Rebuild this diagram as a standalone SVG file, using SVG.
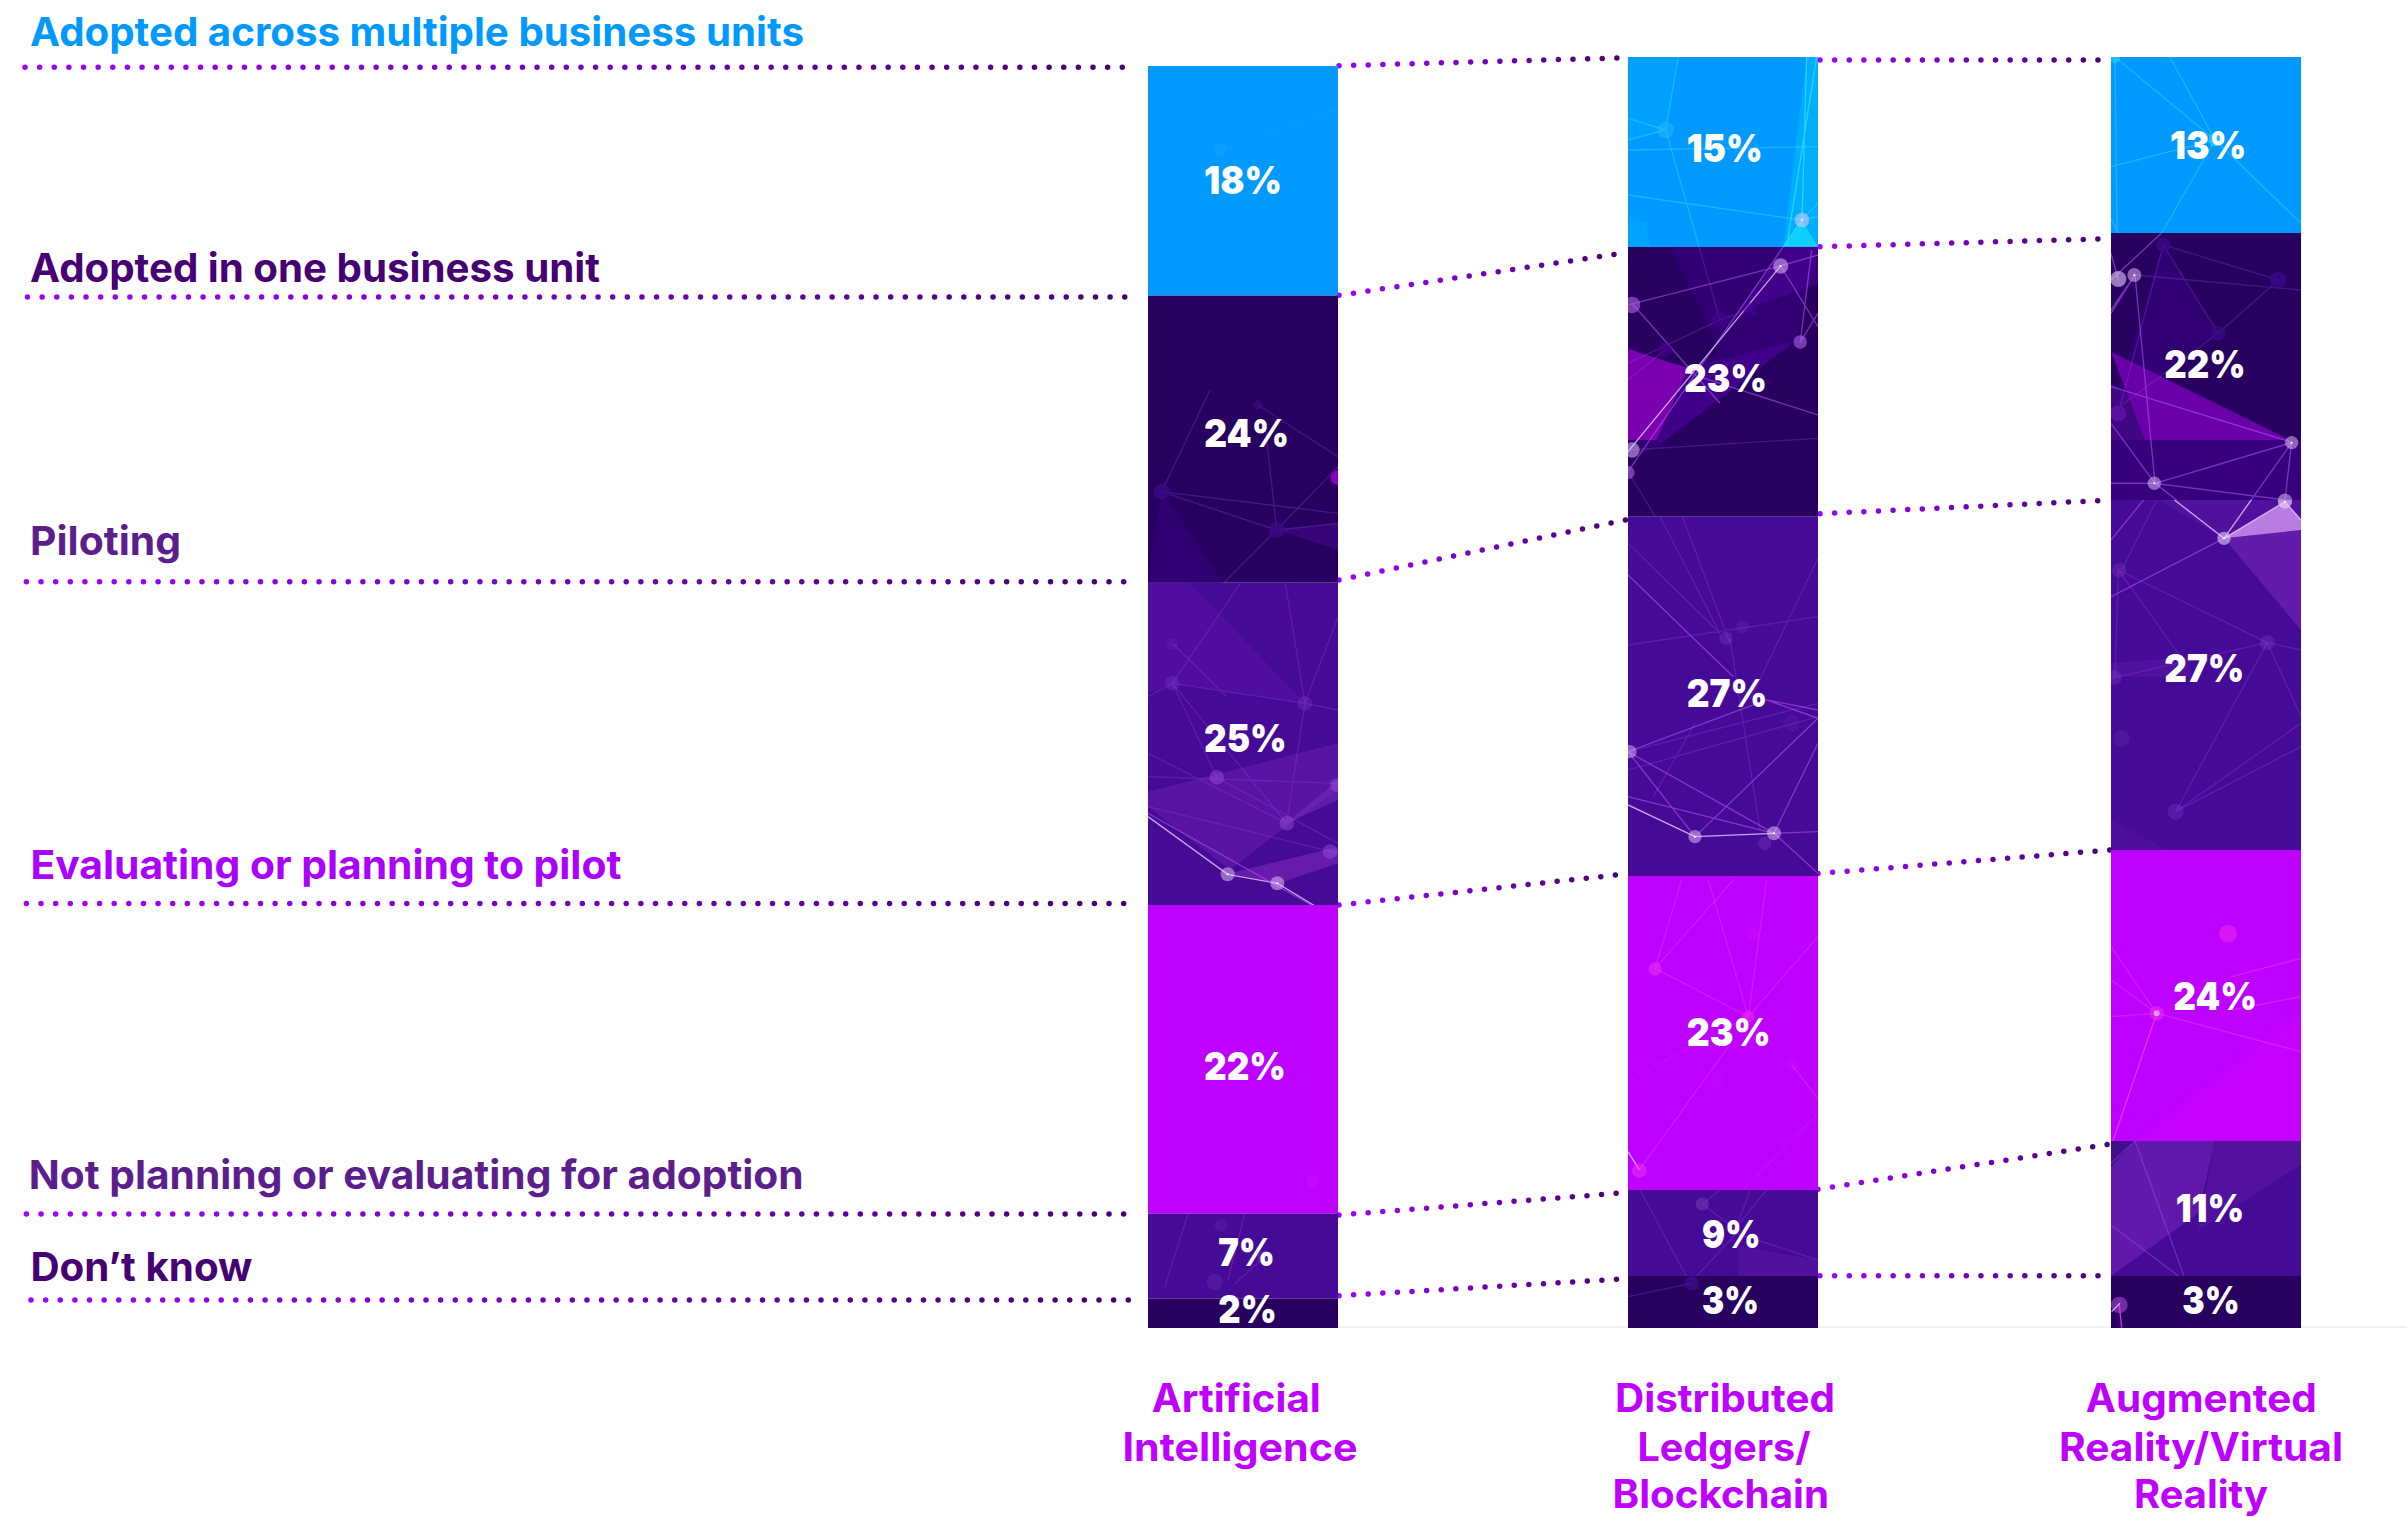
<svg xmlns="http://www.w3.org/2000/svg" width="2407" height="1517" viewBox="0 0 2407 1517">
<style>
text{font-family:Inter,"Liberation Sans",sans-serif}
.lab{font-size:39.5px;font-weight:650}
.col{font-size:39px;font-weight:650;fill:#bd00ff}
.pct{font-size:39px;font-weight:900;fill:#fff}
.blue{fill:#0099ff}.dark{fill:#270060}.mid{fill:#460b96}.mag{fill:#bd00ff}
.dot{fill:none;stroke-width:5.5;stroke-linecap:round;stroke-dasharray:0 14.63}
.tx path,.tx line{fill:none;stroke-width:4}
path.n1{stroke:#9a40e0;opacity:.3}
path.n2{stroke:#b050f0;opacity:.6}
path.n3{stroke:#e8ccff;opacity:.8}
path.cy{stroke:#30dcff;opacity:.45}
path.mg{stroke:#f030ff;opacity:.55}
circle.c1{fill:#9a60e0;opacity:.2}
circle.c2{fill:#e8c8ff;opacity:.5}
circle.c3{fill:#b060e8;opacity:.6}
circle.c4{fill:#f030f0;opacity:.55}
circle.s{fill:#fff}
</style>
<defs>
<linearGradient id="gL" gradientUnits="userSpaceOnUse" x1="25" y1="0" x2="1125" y2="0"><stop offset="0" stop-color="#a100ff"/><stop offset="1" stop-color="#460073"/></linearGradient>
<linearGradient id="gM" gradientUnits="userSpaceOnUse" x1="1339" y1="0" x2="1626" y2="0"><stop offset="0" stop-color="#a100ff"/><stop offset="1" stop-color="#460073"/></linearGradient>
<linearGradient id="gR" gradientUnits="userSpaceOnUse" x1="1820" y1="0" x2="2108" y2="0"><stop offset="0" stop-color="#a100ff"/><stop offset="1" stop-color="#460073"/></linearGradient>
<clipPath id="a1"><rect x="1148" y="66" width="190" height="229.7"/></clipPath>
<clipPath id="a2"><rect x="1148" y="295.7" width="190" height="287"/></clipPath>
<clipPath id="a3"><rect x="1148" y="582.7" width="190" height="322.3"/></clipPath>
<clipPath id="a4"><rect x="1148" y="905" width="190" height="308.7"/></clipPath>
<clipPath id="a5"><rect x="1148" y="1213.7" width="190" height="85"/></clipPath>
<clipPath id="d1"><rect x="1628" y="57" width="190" height="190"/></clipPath>
<clipPath id="d2"><rect x="1628" y="247" width="190" height="269.7"/></clipPath>
<clipPath id="d3"><rect x="1628" y="516.7" width="190" height="359.3"/></clipPath>
<clipPath id="d4"><rect x="1628" y="876" width="190" height="314"/></clipPath>
<clipPath id="d5"><rect x="1628" y="1190" width="190" height="86"/></clipPath>
<clipPath id="d6"><rect x="1628" y="1276" width="190" height="52"/></clipPath>
<clipPath id="r1"><rect x="2111" y="57" width="190" height="176"/></clipPath>
<clipPath id="r2"><rect x="2111" y="233" width="190" height="267"/></clipPath>
<clipPath id="r3"><rect x="2111" y="500" width="190" height="350"/></clipPath>
<clipPath id="r4"><rect x="2111" y="850" width="190" height="291"/></clipPath>
<clipPath id="r5"><rect x="2111" y="1141" width="190" height="135"/></clipPath>
<clipPath id="r6"><rect x="2111" y="1276" width="190" height="52"/></clipPath>
</defs>
<rect width="2407" height="1517" fill="#fff"/>
<rect x="1338" y="1326" width="1069" height="2" fill="#f2f2f2"/>

<g id="connectors" class="connectors">
<path class="dot" stroke="url(#gL)" d="M25 67.3H1125"/>
<path class="dot" stroke="url(#gL)" d="M27.5 297H1125"/>
<path class="dot" stroke="url(#gL)" d="M26.4 581.8H1125"/>
<path class="dot" stroke="url(#gL)" d="M26.4 903.5H1125"/>
<path class="dot" stroke="url(#gL)" d="M26.4 1214H1125"/>
<path class="dot" stroke="url(#gL)" d="M31 1300H1130"/>
<path class="dot" stroke="url(#gM)" d="M1339 65.7L1617 58"/>
<path class="dot" stroke="url(#gM)" d="M1339 295.3L1615 254.3"/>
<path class="dot" stroke="url(#gM)" d="M1339 580L1626 520"/>
<path class="dot" stroke="url(#gM)" d="M1339 905L1616 875"/>
<path class="dot" stroke="url(#gM)" d="M1339 1215L1617 1193.3"/>
<path class="dot" stroke="url(#gM)" d="M1339 1295.7L1617 1279.3"/>
<path class="dot" stroke="url(#gR)" d="M1820 60H2099"/>
<path class="dot" stroke="url(#gR)" d="M1820 246.7L2098 239"/>
<path class="dot" stroke="url(#gR)" d="M1820 513.7L2098 500.7"/>
<path class="dot" stroke="url(#gR)" d="M1818 873.5L2110 850"/>
<path class="dot" stroke="url(#gR)" d="M1818 1189.3L2108 1144.3"/>
<path class="dot" stroke="url(#gR)" d="M1820 1275.7H2099"/>
</g>

<g id="bar-artificial-intelligence">
<rect class="blue" x="1148" y="66" width="190" height="229.7"/>
<rect class="dark" x="1148" y="295.7" width="190" height="287"/>
<rect class="mid" x="1148" y="582.7" width="190" height="322.3"/>
<rect class="mag" x="1148" y="905" width="190" height="308.7"/>
<rect class="mid" x="1148" y="1213.7" width="190" height="85"/>
<rect class="dark" x="1148" y="1298.7" width="190" height="29.3"/>
<g class="tx" clip-path="url(#a1)"><g transform="translate(1140 66) scale(.3333)">
<circle cx="243" cy="250" r="20" fill="#1aa4ff" opacity=".4"/><path d="M243 250L594 130" stroke="#1aa4ff" opacity=".4"/></g></g>
<g class="tx" clip-path="url(#a2)"><g transform="translate(1140 440) scale(.3333)">
<path d="M65 155L250 430H24Z" style="fill:#34007a;stroke:none;opacity:.7"/>
<path d="M410 270L594 250V330Z" style="fill:#4a0a90;stroke:none;opacity:.5"/>
<path class="n1" d="M65 155L410 270M65 155L210 -150M375 -50L410 270M410 270L594 80M410 270L594 250M410 270L250 430M65 155L594 220M354 -105L594 50"/>
<circle cx="65" cy="155" r="24" fill="#3c0a84" opacity=".8"/><circle cx="410" cy="270" r="24" fill="#3c0a84" opacity=".8"/><circle cx="354" cy="-105" r="14" fill="#3c0a84" opacity=".7"/><circle cx="594" cy="113" r="22" fill="#8a00c0"/>
</g></g>
<g class="tx" clip-path="url(#a3)"><g transform="translate(1140 440) scale(.3333)">
<path d="M24 429H150L495 790L97 730L24 760Z" style="fill:#5a12a8;stroke:none;opacity:.45"/>
<path d="M24 1055L594 910V1050L450 1150L270 1290L24 1100Z" style="fill:#6a1fb0;stroke:none;opacity:.5"/>
<path d="M270 1300L594 1220V1270L415 1330Z" style="fill:#7a25b8;stroke:none;opacity:.65"/>
<path d="M440 1150L594 1020V1080Z" style="fill:#8030c0;stroke:none;opacity:.45"/>
<path class="n1" d="M97 730L495 790M24 770L97 730M97 730L230 1012M97 730L440 1150M495 790L440 1150M495 790L594 530M495 790L594 810M24 1010L594 1030M24 1100L594 1240M230 1012L594 1210M24 940L440 1150M410 270L97 730M410 270L495 790M97 610L260 770"/>
<path class="n3" d="M24 1130L263 1303L412 1330M412 1330L594 1440"/>
<path class="n2" d="M24 1120L594 1440"/>
<circle class="c1" cx="97" cy="730" r="22"/><circle class="c1" cx="97" cy="612" r="18" style="opacity:.1"/><circle class="c1" cx="495" cy="790" r="22"/><circle class="c3" cx="230" cy="1012" r="22" style="opacity:.35"/><circle class="c3" cx="441" cy="1150" r="22" style="opacity:.35"/><circle class="c2" cx="263" cy="1303" r="21"/><circle class="s" cx="263" cy="1303" r="3"/><circle class="c2" cx="412" cy="1330" r="21"/><circle class="s" cx="412" cy="1330" r="3"/><circle class="c3" cx="570" cy="1235" r="22" style="opacity:.35"/><circle class="c3" cx="590" cy="1035" r="20" style="opacity:.35"/>
</g></g>
<g class="tx" clip-path="url(#a4)"><g transform="translate(1148 905) scale(.3333)">
<circle class="c4" cx="495" cy="830" r="20" style="opacity:.15"/></g></g>
<g class="tx" clip-path="url(#a5)"><g transform="translate(1148 1213.7) scale(.3333)">
<path class="n1" d="M290 0L240 200M260 210L350 130M120 0L50 220"/>
<circle cx="350" cy="132" r="22" fill="#6a30b0" opacity=".5"/><circle cx="200" cy="205" r="24" fill="#6a30b0" opacity=".35"/><circle cx="220" cy="35" r="20" fill="#6a30b0" opacity=".25"/>
</g></g>
<text class="pct" x="1204" y="194.3" textLength="78" lengthAdjust="spacingAndGlyphs">18%</text>
<text class="pct" x="1204" y="447" textLength="85" lengthAdjust="spacingAndGlyphs">24%</text>
<text class="pct" x="1204" y="752.3" textLength="82.7" lengthAdjust="spacingAndGlyphs">25%</text>
<text class="pct" x="1204" y="1080" textLength="82" lengthAdjust="spacingAndGlyphs">22%</text>
<text class="pct" x="1218.3" y="1266" textLength="56.7" lengthAdjust="spacingAndGlyphs">7%</text>
<text class="pct" x="1218.3" y="1322.7" textLength="58.4" lengthAdjust="spacingAndGlyphs">2%</text>
</g>

<g id="bar-distributed-ledgers">
<rect class="blue" x="1628" y="57" width="190" height="190"/>
<rect class="dark" x="1628" y="247" width="190" height="269.7"/>
<rect class="mid" x="1628" y="516.7" width="190" height="359.3"/>
<rect class="mag" x="1628" y="876" width="190" height="314"/>
<rect class="mid" x="1628" y="1190" width="190" height="86"/>
<rect class="dark" x="1628" y="1276" width="190" height="52"/>
<g class="tx" clip-path="url(#d1)"><g transform="translate(1620 50) scale(.3333)">
<path d="M24 21H175L137 240L24 270Z" style="fill:#00a8ff;stroke:none;opacity:.5"/>
<path d="M24 500L80 520L90 590H24Z" style="fill:#00a8ff;stroke:none;opacity:.6"/>
<path d="M560 21H594V590H490Z" style="fill:#00c8ff;stroke:none;opacity:.45"/>
<path d="M490 590L546 510L594 590Z" style="fill:#10d8ff;stroke:none;opacity:.8"/>
<path class="cy" d="M24 205L137 240M24 270L137 240M175 21L137 240M137 240L300 810M24 435L546 510M546 510L594 500M546 510L594 460M24 300L594 290"/>
<path class="cy" style="opacity:.8" d="M546 510L560 21M490 590L546 510M500 590L590 21"/>
<circle cx="137" cy="240" r="25" fill="#30c0ff" opacity=".4"/><circle class="c2" cx="546" cy="510" r="22" style="opacity:.55"/><circle class="s" cx="546" cy="510" r="3"/>
</g></g>
<g class="tx" clip-path="url(#d2)"><g transform="translate(1620 50) scale(.3333)">
<path d="M150 591H594L530 870L110 1190L24 1230V897L220 960L300 900Z" style="fill:#36007c;stroke:none;opacity:.7"/>
<path d="M24 897L205 955L110 1170L24 1170Z" style="fill:#7a00b0;stroke:none"/>
<path d="M205 955L530 870L110 1190Z" style="fill:#45008f;stroke:none;opacity:.8"/>
<path d="M490 591L594 591V700L350 790Z" style="fill:#50009c;stroke:none;opacity:.55"/>
<path class="n2" d="M24 765L482 648L594 615M482 648L594 830M541 876L594 790M541 876L575 600M24 1265L490 590M220 975L594 1095M36 760L300 1060"/>
<path class="n3" d="M482 648L24 1205"/>
<path class="n1" d="M24 1200L594 1165M24 940L300 810L390 780M24 1265L130 1440M137 240L300 810M24 990L135 900"/>
<circle class="c3" cx="36" cy="765" r="25"/><circle class="c2" cx="482" cy="648" r="23"/><circle class="s" cx="482" cy="648" r="3"/><circle class="c3" cx="541" cy="876" r="20"/><circle class="c2" cx="36" cy="1200" r="23"/><circle class="c3" cx="24" cy="1268" r="20"/>
<circle cx="300" cy="810" r="25" fill="#45008f" opacity=".6"/><circle cx="390" cy="780" r="20" fill="#45008f" opacity=".6"/><circle cx="135" cy="900" r="22" fill="#45008f" opacity=".6"/>
</g></g>
<g class="tx" clip-path="url(#d3)"><g transform="translate(1620 510) scale(.3333)">
<path class="n1" d="M110 0L300 370M180 0L330 400M24 100L300 370M330 385L420 960M24 405L594 320M24 725L594 580M594 145L390 570M24 780L594 620M225 640L100 860"/>
<path class="n2" d="M24 195L340 500M24 725L440 570M440 570L594 625M440 570L594 600M225 980L594 625M462 970L594 700M24 725L225 980M24 725L462 970M24 860L462 970M462 970L594 1090M462 970L594 965"/>
<path class="n3" d="M24 885L225 980L462 970"/>
<circle class="c1" cx="318" cy="385" r="20"/><circle class="c1" cx="367" cy="350" r="20" style="opacity:.12"/><circle class="c2" cx="30" cy="725" r="20" style="opacity:.45"/><circle class="c2" cx="225" cy="980" r="20"/><circle class="s" cx="225" cy="980" r="3"/><circle class="c2" cx="462" cy="970" r="21"/><circle class="s" cx="462" cy="970" r="3"/><circle class="c1" cx="435" cy="1000" r="20"/><circle class="c1" cx="515" cy="640" r="25" style="opacity:.08"/>
</g></g>
<g class="tx" clip-path="url(#d4)"><g transform="translate(1620 880) scale(.3333)">
<path class="mg" style="opacity:.45" d="M185 0L105 265M340 0L105 265M265 0L385 410M440 0L385 410M105 265L385 410M594 170L385 410M325 500L58 870M515 555L594 655"/>
<path class="mg" style="opacity:.2" d="M385 410L24 600M594 700L370 930"/>
<path class="n3" d="M24 815L58 870"/>
<circle class="c4" cx="105" cy="267" r="20"/><circle class="c4" cx="385" cy="410" r="18"/><circle class="c4" cx="58" cy="872" r="22"/><circle class="c4" cx="400" cy="160" r="20" style="opacity:.12"/><circle class="c4" cx="515" cy="555" r="20" style="opacity:.12"/><circle class="c4" cx="295" cy="600" r="24" style="opacity:.1"/>
</g></g>
<g class="tx" clip-path="url(#d5)"><g transform="translate(1620 880) scale(.3333)">
<path d="M355 1100L594 1140V1188H355Z" style="fill:#6a20b0;stroke:none;opacity:.3"/>
<path class="n1" d="M60 930L210 1210M247 972L350 1050M440 930L350 1040M390 930L350 1040M300 930L247 972M350 1060L210 1210M350 1060L594 1140"/>
<circle cx="247" cy="972" r="20" fill="#7040b0" opacity=".5"/>
</g></g>
<g class="tx" clip-path="url(#d6)"><g transform="translate(1620 880) scale(.3333)">
<path class="n1" d="M24 1250L215 1210"/><circle cx="215" cy="1210" r="22" fill="#45108f" opacity=".6"/>
</g></g>
<text class="pct" x="1686.7" y="161.7" textLength="76" lengthAdjust="spacingAndGlyphs">15%</text>
<text class="pct" x="1684" y="392.3" textLength="83" lengthAdjust="spacingAndGlyphs">23%</text>
<text class="pct" x="1686.7" y="706.7" textLength="80.6" lengthAdjust="spacingAndGlyphs">27%</text>
<text class="pct" x="1686.7" y="1046" textLength="84" lengthAdjust="spacingAndGlyphs">23%</text>
<text class="pct" x="1702" y="1248.3" textLength="58.7" lengthAdjust="spacingAndGlyphs">9%</text>
<text class="pct" x="1702" y="1314" textLength="57" lengthAdjust="spacingAndGlyphs">3%</text>
</g>

<g id="bar-augmented-reality">
<rect class="blue" x="2111" y="57" width="190" height="176"/>
<rect class="dark" x="2111" y="233" width="190" height="267"/>
<rect class="mid" x="2111" y="500" width="190" height="350"/>
<rect class="mag" x="2111" y="850" width="190" height="291"/>
<rect class="mid" x="2111" y="1141" width="190" height="135"/>
<rect class="dark" x="2111" y="1276" width="190" height="52"/>
<g class="tx" clip-path="url(#r1)"><g transform="translate(2105 50) scale(.3333)">
<path class="cy" d="M30 21L330 270M195 21L330 270M330 270L588 520M18 350L330 270M330 270L170 549M30 21L36 549M18 505L40 549"/>
<circle cx="330" cy="270" r="20" fill="#30dcff" opacity=".5"/><circle cx="30" cy="25" r="15" fill="#30dcff" opacity=".5"/>
</g></g>
<g class="tx" clip-path="url(#r2)"><g transform="translate(2105 50) scale(.3333)">
<path d="M18 1170H588V1350H18Z" style="fill:#36007c;stroke:none"/>
<path d="M175 585L340 850L18 1090Z" style="fill:#36007c;stroke:none;opacity:.7"/>
<path d="M18 1000L280 1170H18Z" style="fill:#4a0a90;stroke:none;opacity:.7"/>
<path d="M18 905L555 1170H120Z" style="fill:#6a00a8;stroke:none"/>
<path class="n1" d="M175 585L520 690M90 675L588 720M520 690L340 850M340 850L175 585M18 1090L340 850M175 585L40 1090"/>
<path class="n2" d="M90 675L150 1300M18 1010L555 1175M18 1120L150 1300M150 1300L560 1178M150 1300L540 1350M560 1178L540 1350M560 1178L375 1440M150 1300L330 1440M18 790L90 675M18 610L40 690M18 690L170 549M18 1300L150 1300M18 780L90 675"/>
<circle class="c2" cx="40" cy="687" r="24" style="opacity:.6"/><circle class="c2" cx="88" cy="675" r="21"/><circle class="s" cx="88" cy="675" r="3"/><circle cx="520" cy="690" r="25" fill="#3d0a8a" opacity=".75"/><circle cx="340" cy="850" r="22" fill="#3d0a8a" opacity=".75"/><circle cx="175" cy="585" r="22" fill="#3d0a8a" opacity=".75"/><circle cx="40" cy="1090" r="24" fill="#5a10a0"/><circle class="c2" cx="560" cy="1178" r="20"/><circle class="s" cx="560" cy="1178" r="3"/><circle class="c2" cx="148" cy="1300" r="20"/><circle class="s" cx="148" cy="1300" r="3"/><circle class="c2" cx="540" cy="1353" r="22"/>
</g></g>
<g class="tx" clip-path="url(#r3)"><g transform="translate(2105 490) scale(.3333)">
<path d="M18 30H588V120L357 145L160 30Z" style="fill:#5a18a8;stroke:none;opacity:.55"/>
<path d="M357 145L588 120V420Z" style="fill:#6a1fb0;stroke:none;opacity:.8"/>
<path d="M357 145L540 35L588 90V120Z" style="fill:#c488ea;stroke:none;opacity:.9"/>
<path d="M18 520L250 500L260 560L18 560Z" style="fill:#5a18a8;stroke:none;opacity:.45"/>
<path d="M18 990L190 1080H18Z" style="fill:#5a18a8;stroke:none;opacity:.35"/>
<path class="n2" d="M18 150L140 0M18 320L357 145"/>
<path class="n1" d="M40 240L487 458M487 458L588 480M18 565L487 458M487 458L212 965M487 458L588 680M212 965L588 700M212 965L588 770M40 240L30 560M40 240L220 490M170 0L50 240"/>
<path class="n3" d="M170 0L357 145L460 0M540 35L357 145M540 35L588 90"/>
<circle class="c2" cx="357" cy="145" r="20" style="opacity:.6"/><circle class="s" cx="357" cy="145" r="3"/><circle class="c2" cx="540" cy="35" r="21" style="opacity:.7"/><circle class="s" cx="540" cy="35" r="3"/><circle class="c1" cx="43" cy="240" r="22"/><circle class="c1" cx="487" cy="458" r="23"/><circle class="c1" cx="28" cy="563" r="22"/><circle class="c1" cx="50" cy="745" r="25" style="opacity:.12"/><circle class="c1" cx="212" cy="965" r="24"/>
</g></g>
<g class="tx" clip-path="url(#r4)"><g transform="translate(2105 880) scale(.3333)">
<path d="M90 783L588 400V783Z" style="fill:#c800ff;stroke:none;opacity:.6"/>
<path class="mg" d="M18 200L155 400M18 300L155 400M18 410L155 400M155 400L588 515M380 390L588 350M380 290L588 235"/>
<path class="mg" style="opacity:.9" d="M155 400L18 800"/>
<circle class="c4" cx="155" cy="400" r="22"/><circle cx="155" cy="400" r="9" fill="#fff" opacity=".5"/><circle cx="369" cy="161" r="27" fill="#e020f0" opacity=".75"/>
</g></g>
<g class="tx" clip-path="url(#r5)"><g transform="translate(2105 880) scale(.3333)">
<path d="M330 783H588V855L280 1050Z" style="fill:#6a1fb0;stroke:none;opacity:.35"/>
<path d="M18 783H330L280 1000L18 1188Z" style="fill:#6a1fb0;stroke:none;opacity:.75"/>
<path d="M18 860L90 783H18Z" style="fill:#3a0a80;stroke:none;opacity:.8"/>
<path class="n2" d="M90 783L245 1210M18 1035L220 1188M18 850L90 783" style="opacity:.4"/>
</g></g>
<g class="tx" clip-path="url(#r6)"><g transform="translate(2105 880) scale(.3333)">
<circle cx="43" cy="1275" r="25" fill="#9040c0" opacity=".7"/><path class="n3" d="M20 1295L45 1270"/><path class="mg" style="opacity:.9" d="M43 1275L50 1343"/>
</g></g>
<text class="pct" x="2170" y="159.3" textLength="76.3" lengthAdjust="spacingAndGlyphs">13%</text>
<text class="pct" x="2164.3" y="378.3" textLength="81.4" lengthAdjust="spacingAndGlyphs">22%</text>
<text class="pct" x="2164.3" y="682.3" textLength="80" lengthAdjust="spacingAndGlyphs">27%</text>
<text class="pct" x="2173.3" y="1010" textLength="83.7" lengthAdjust="spacingAndGlyphs">24%</text>
<text class="pct" x="2175.7" y="1222" textLength="68.6" lengthAdjust="spacingAndGlyphs">11%</text>
<text class="pct" x="2182.3" y="1314" textLength="57.4" lengthAdjust="spacingAndGlyphs">3%</text>
</g>

<g id="legend-adopted-multiple"><text class="lab" x="30" y="45.5" fill="#0099ff" textLength="774" lengthAdjust="spacingAndGlyphs">Adopted across multiple business units</text></g>
<g id="legend-adopted-one"><text class="lab" x="30" y="281.8" fill="#460073" textLength="570" lengthAdjust="spacingAndGlyphs">Adopted in one business unit</text></g>
<g id="legend-piloting"><text class="lab" x="30" y="554.8" fill="#5c1e8c" textLength="151" lengthAdjust="spacingAndGlyphs">Piloting</text></g>
<g id="legend-evaluating"><text class="lab" x="30.4" y="879.3" fill="#a900ff" textLength="591" lengthAdjust="spacingAndGlyphs">Evaluating or planning to pilot</text></g>
<g id="legend-not-planning"><text class="lab" x="28.7" y="1189.3" fill="#5c1e8c" textLength="775" lengthAdjust="spacingAndGlyphs">Not planning or evaluating for adoption</text></g>
<g id="legend-dont-know"><text class="lab" x="30.4" y="1281.3" fill="#460073" textLength="222" lengthAdjust="spacingAndGlyphs">Don’t know</text></g>

<g id="label-artificial-intelligence">
<text class="col" x="1151.7" y="1412.3" textLength="169" lengthAdjust="spacingAndGlyphs">Artificial</text>
<text class="col" x="1122.5" y="1460.7" textLength="235" lengthAdjust="spacingAndGlyphs">Intelligence</text>
</g>
<g id="label-distributed-ledgers">
<text class="col" x="1615" y="1412.3" textLength="220" lengthAdjust="spacingAndGlyphs">Distributed</text>
<text class="col" x="1637.5" y="1460.7" textLength="173" lengthAdjust="spacingAndGlyphs">Ledgers/</text>
<text class="col" x="1612.5" y="1508.3" textLength="216.5" lengthAdjust="spacingAndGlyphs">Blockchain</text>
</g>
<g id="label-augmented-reality">
<text class="col" x="2085.8" y="1412.3" textLength="231" lengthAdjust="spacingAndGlyphs">Augmented</text>
<text class="col" x="2059" y="1460.7" textLength="284" lengthAdjust="spacingAndGlyphs">Reality/Virtual</text>
<text class="col" x="2134" y="1508.3" textLength="134" lengthAdjust="spacingAndGlyphs">Reality</text>
</g>
</svg>
